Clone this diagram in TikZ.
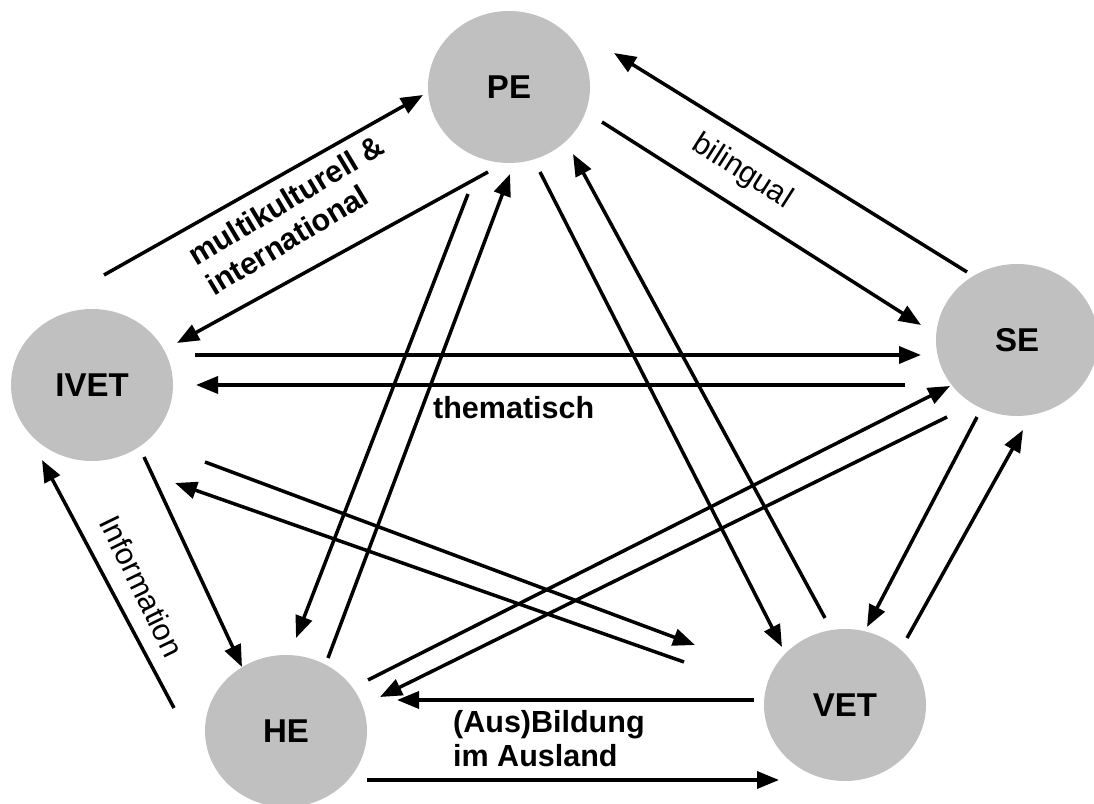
\documentclass[tikz,border=0pt]{standalone}
\usepackage{fontspec}
\setmainfont{Liberation Sans}
\usepackage{tikz}
\usetikzlibrary{shapes.geometric, arrows.meta, calc}
\definecolor{NetGray}{RGB}{192, 192, 192}

\begin{document}
\begin{tikzpicture}[x=1pt, y=1pt,
  sector/.style={ellipse, fill=NetGray, minimum width=162pt, minimum height=152pt,
    inner sep=0pt, font=\fontsize{33}{36}\selectfont\bfseries},
  flow/.style={line width=3.5pt, -{Triangle[length=22pt, width=17pt]}},
  tag/.style={inner sep=0pt, font=\fontsize{30.5}{34.5}\selectfont\bfseries},
  plaintag/.style={inner sep=0pt, font=\fontsize{30.5}{34.5}\selectfont}]
  \useasboundingbox (0,0) rectangle (1094,803);

  \node[sector] (PE) at (509,716) {PE};
  \node[sector] (SE) at (1017,463) {SE};
  \node[sector] (VET) at (845,98) {VET};
  \node[sector] (HE) at (286,72) {HE};
  \node[sector] (IVET) at (92,418) {IVET};

  % IVET <-> PE
  \draw[flow] ($(IVET.center)+(12,110)$) -- ($(PE.center)+(-86,-8)$);
  \draw[flow] ($(PE.center)+(-21,-85)$) -- ($(IVET.center)+(85,42)$);
  \node[tag, align=left, rotate=31] (multi) at (295,588) {multikulturell \&\\international};

  % PE <-> SE
  \draw[flow] ($(PE.center)+(93,-35)$) -- ($(SE.center)+(-96,15)$);
  \draw[flow] ($(SE.center)+(-50,68)$) -- ($(PE.center)+(105,34)$);
  \node[plaintag, rotate=-32.5] (bili) at (742,631) {bilingual};

  % IVET <-> SE
  \draw[flow] ($(IVET.center)+(103,30)$) -- ($(SE.center)+(-96,-15)$);
  \draw[flow] ($(SE.center)+(-112,-45)$) -- ($(IVET.center)+(104,0)$);
  \node[tag, anchor=base west] (them) at (433,384) {thematisch};

  % PE <-> HE
  \draw[flow] ($(PE.center)+(-41,-107)$) -- ($(HE.center)+(10,93)$);
  \draw[flow] ($(HE.center)+(42,73)$) -- ($(PE.center)+(1,-87)$);

  % PE <-> VET
  \draw[flow] ($(PE.center)+(31,-85)$) -- ($(VET.center)+(-63,58)$);
  \draw[flow] ($(VET.center)+(-20,87)$) -- ($(PE.center)+(64,-67)$);

  % SE <-> VET
  \draw[flow] ($(SE.center)+(-40,-77)$) -- ($(VET.center)+(22,78)$);
  \draw[flow] ($(VET.center)+(62,67)$) -- ($(SE.center)+(6,-90)$);

  % IVET <-> HE
  \draw[flow] ($(IVET.center)+(52,-72)$) -- ($(HE.center)+(-44,64)$);
  \draw[flow] ($(HE.center)+(-112,23)$) -- ($(IVET.center)+(-50,-75)$);
  \node[plaintag, rotate=-64] (info) at (142,217) {Information};

  % IVET <-> VET
  \draw[flow] ($(IVET.center)+(113,-77)$) -- ($(VET.center)+(-150,60)$);
  \draw[flow] ($(VET.center)+(-161,43)$) -- ($(IVET.center)+(83,-98)$);

  % HE <-> SE
  \draw[flow] ($(HE.center)+(82,51)$) -- ($(SE.center)+(-67,-46)$);
  \draw[flow] ($(SE.center)+(-70,-77)$) -- ($(HE.center)+(94,34)$);

  % HE <-> VET
  \draw[flow] ($(VET.center)+(-91,5)$) -- ($(HE.center)+(111,31)$);
  \draw[flow] ($(HE.center)+(81,-49)$) -- ($(VET.center)+(-66,-75)$);
  \node[tag, align=left, anchor=north west] (abroad) at (453,93) {(Aus)Bildung\\im Ausland};
\end{tikzpicture}
\end{document}
